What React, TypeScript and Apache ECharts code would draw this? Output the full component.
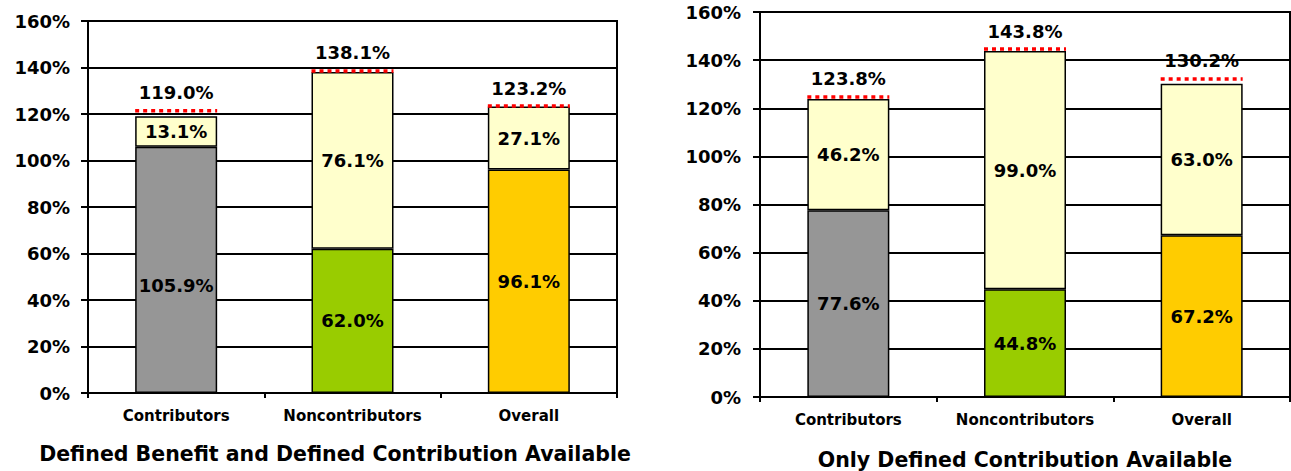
import React, { useEffect, useRef } from "react";
import * as echarts from "echarts";

const categories = ["Contributors", "Noncontributors", "Overall"];
const leftBase = [105.9, 62.0, 96.1];
const leftTop = [13.1, 76.1, 27.1];
const leftTotal = [119.0, 138.1, 123.2];
const leftMarker = [121.4, 138.5, 123.4];
const rightBase = [77.6, 44.8, 67.2];
const rightTop = [46.2, 99.0, 63.0];
const rightTotal = [123.8, 143.8, 130.2];
const rightMarker = [124.7, 144.6, 132.2];
const baseColors = ["#969696", "#99CC00", "#FFCC00"];
const topColor = "#FFFFCC";
const leftTitle = "Defined Benefit and Defined Contribution Available";
const rightTitle = "Only Defined Contribution Available";

const FONT = "DejaVu Sans";
const BAR_W = 82;

function pct(v: number) {
  return v.toFixed(1) + "%";
}

export default function App() {
  const ref = useRef<HTMLDivElement>(null);
  useEffect(() => {
    document.body.style.margin = "0";
    const chart = echarts.init(ref.current!, null, { renderer: "svg" });

    const xAxis = (gi: number) => ({
      type: "category",
      gridIndex: gi,
      data: categories,
      axisLine: { show: true, lineStyle: { color: "#000", width: 2 } },
      axisTick: { show: true, length: 5, lineStyle: { color: "#000", width: 2 } },
      axisLabel: {
        interval: 0,
        hideOverlap: false,
        color: "#000",
        fontFamily: FONT,
        fontWeight: "bold",
        fontSize: 15,
        margin: 15,
      },
    });
    const yAxis = (gi: number, margin: number) => ({
      type: "value",
      gridIndex: gi,
      min: 0,
      max: 160,
      interval: 20,
      axisLine: { show: true, lineStyle: { color: "#000", width: 2 } },
      axisTick: { show: true, length: 7, lineStyle: { color: "#000", width: 2 } },
      splitLine: { show: true, lineStyle: { color: "#000", width: 2 } },
      axisLabel: {
        color: "#000",
        fontFamily: FONT,
        fontWeight: "bold",
        fontSize: 18,
        margin,
        formatter: "{value}%",
      },
    });

    const insideLabel = {
      show: true,
      position: "inside",
      color: "#000",
      fontFamily: FONT,
      fontWeight: "bold",
      fontSize: 18,
      formatter: (p: any) => pct(p.value),
    };

    const barSeries = (gi: number, base: number[], top: number[], stack: string) => [
      {
        type: "bar",
        xAxisIndex: gi,
        yAxisIndex: gi,
        stack,
        barWidth: BAR_W,
        data: base.map((v, i) => {
          const item: any = { value: v, itemStyle: { color: baseColors[i] } };
          if (gi === 0 && i === 0) item.label = { offset: [0, 16] };
          return item;
        }),
        itemStyle: { borderColor: "#000", borderWidth: 1.5 },
        label: insideLabel,
      },
      {
        type: "bar",
        xAxisIndex: gi,
        yAxisIndex: gi,
        stack,
        barWidth: BAR_W,
        data: top,
        itemStyle: { color: topColor, borderColor: "#000", borderWidth: 1.5 },
        label: insideLabel,
      },
    ];

    const markerSeries = (gi: number, marker: number[], total: number[]) => ({
      type: "custom",
      xAxisIndex: gi,
      yAxisIndex: gi,
      data: marker.map((m, i) => [i, m, total[i]]),
      z: 5,
      renderItem: (params: any, api: any) => {
        const pt = api.coord([api.value(0), api.value(1)]);
        const half = BAR_W / 2;
        return {
          type: "group",
          children: [
            {
              type: "line",
              shape: { x1: pt[0] - half, y1: pt[1], x2: pt[0] + half, y2: pt[1] },
              style: { stroke: "#FF0000", lineWidth: 3.5, lineDash: [4, 4] },
            },
            {
              type: "text",
              x: pt[0],
              y: pt[1] - 18,
              style: {
                text: pct(api.value(2)),
                fill: "#000",
                font: `bold 18px "${FONT}"`,
                align: "center",
                verticalAlign: "middle",
              },
            },
          ],
        };
      },
    });

    chart.setOption({
      animation: false,
      backgroundColor: "#fff",
      grid: [
        { left: 88, top: 21, width: 529, height: 372, show: true, borderColor: "#000", borderWidth: 2, backgroundColor: "transparent" },
        { left: 760, top: 12, width: 530, height: 385, show: true, borderColor: "#000", borderWidth: 2, backgroundColor: "transparent" },
      ],
      xAxis: [xAxis(0), xAxis(1)],
      yAxis: [yAxis(0, 18), yAxis(1, 19)],
      series: [
        ...barSeries(0, leftBase, leftTop, "L"),
        ...barSeries(1, rightBase, rightTop, "R"),
        markerSeries(0, leftMarker, leftTotal),
        markerSeries(1, rightMarker, rightTotal),
      ],
      graphic: [
        {
          type: "text",
          x: 335,
          y: 454,
          style: {
            text: leftTitle,
            fill: "#000",
            font: `bold 20.5px "${FONT}"`,
            align: "center",
            verticalAlign: "middle",
          },
        },
        {
          type: "text",
          x: 1025,
          y: 460,
          style: {
            text: rightTitle,
            fill: "#000",
            font: `bold 20.5px "${FONT}"`,
            align: "center",
            verticalAlign: "middle",
          },
        },
      ],
    });
    return () => chart.dispose();
  }, []);
  return <div ref={ref} style={{ width: 1291, height: 471, position: "absolute", left: 0, top: 0 }} />;
}
